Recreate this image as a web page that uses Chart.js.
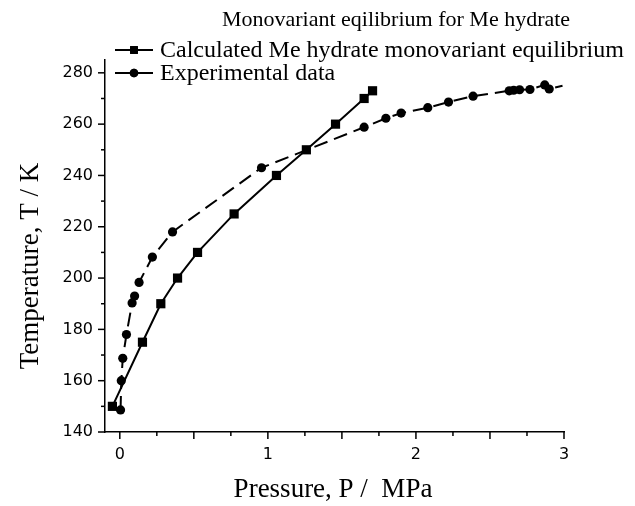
<!DOCTYPE html>
<html>
<head>
<meta charset="utf-8">
<script src="https://cdn.jsdelivr.net/npm/chart.js@4/dist/chart.umd.min.js"></script>
<style>
  html, body { margin: 0; padding: 0; background: #fff; }
</style>
</head>
<body>
<canvas id="chart-hidrato" width="635" height="506"></canvas>
<script>
// ==================== DATOS ====================
const calcPresion = [-0.05, 0.153, 0.277, 0.39, 0.525, 0.772, 1.058, 1.26, 1.457, 1.65, 1.707];
const calcTemp    = [150, 175, 190, 200, 210, 225, 240, 250, 260, 270, 273];

const expPresion = [0.005, 0.01, 0.02, 0.045, 0.083, 0.1, 0.13, 0.22, 0.356, 0.957, 1.65, 1.797, 1.9, 2.08, 2.22, 2.386, 2.63, 2.66, 2.7, 2.77, 2.87, 2.9, 2.99];
const expTemp    = [148.6, 160, 168.7, 178, 190.3, 193, 198.3, 208.2, 218, 243, 258.8, 262.3, 264.3, 266.4, 268.6, 270.9, 273, 273.2, 273.4, 273.5, 275.3, 273.7, 275];

const ticksX = [0, 0.25, 0.5, 0.75, 1, 1.25, 1.5, 1.75, 2, 2.25, 2.5, 2.75, 3];
const ticksY = [140, 150, 160, 170, 180, 190, 200, 210, 220, 230, 240, 250, 260, 270, 280];

const etiquetas = ['Calculated Me hydrate monovariant equilibrium', 'Experimental data'];
const tituloGrafico = 'Monovariant eqilibrium for Me hydrate';
const tituloX = 'Pressure, P /  MPa';
const tituloY = 'Temperature, T / K';

const toXY = (xs, ys) => xs.map((x, i) => ({ x, y: ys[i] }));

// ==================== PLUGIN: marcas, títulos y leyenda ====================
const decoraciones = {
    id: 'decoraciones',
    afterDraw(chart) {
        const { ctx, chartArea, scales } = chart;
        ctx.save();
        ctx.strokeStyle = '#000';
        ctx.fillStyle = '#000';
        ctx.lineWidth = 1.5;

        // marcas de los ejes (mayores / menores)
        scales.x.ticks.forEach(t => {
            const px = scales.x.getPixelForValue(t.value);
            const len = Number.isInteger(t.value * 2) ? 7 : 4;
            ctx.beginPath(); ctx.moveTo(px, chartArea.bottom); ctx.lineTo(px, chartArea.bottom + len); ctx.stroke();
        });
        scales.y.ticks.forEach(t => {
            const py = scales.y.getPixelForValue(t.value);
            const len = t.value % 20 === 0 ? 7 : 4;
            ctx.beginPath(); ctx.moveTo(chartArea.left, py); ctx.lineTo(chartArea.left - len, py); ctx.stroke();
        });

        // títulos
        ctx.textBaseline = 'middle';
        ctx.textAlign = 'center';
        ctx.font = '22px "Liberation Serif"';
        ctx.fillText(tituloGrafico, 396, 20);
        ctx.font = '27px "Liberation Serif"';
        ctx.fillText(tituloX, 333, 490);
        ctx.save();
        ctx.translate(31, 266);
        ctx.rotate(-Math.PI / 2);
        ctx.fillText(tituloY, 0, 0);
        ctx.restore();

        // leyenda
        ctx.textAlign = 'left';
        ctx.font = '24px "Liberation Serif"';
        chart.data.datasets.forEach((ds, i) => {
            const y = 50 + i * 23;
            ctx.lineWidth = 2;
            ctx.setLineDash([]);
            ctx.beginPath(); ctx.moveTo(115, y); ctx.lineTo(153, y); ctx.stroke();
            Chart.helpers.drawPoint(ctx, { pointStyle: ds.pointStyle, radius: ds.legendRadius, borderWidth: 0 }, 134, y);
            ctx.fill();
            ctx.fillText(ds.label, 160, y + 1);
        });
        ctx.restore();
    }
};

// ==================== GRÁFICO ====================
const ctx = document.getElementById('chart-hidrato').getContext('2d');
new Chart(ctx, {
    type: 'line',
    data: {
        datasets: [{
            label: etiquetas[0],
            data: toXY(calcPresion, calcTemp),
            borderColor: '#000',
            backgroundColor: '#000',
            borderWidth: 2,
            pointStyle: 'rect',
            pointRadius: 6.5,
            legendRadius: 5.5,
            pointBorderWidth: 0,
            tension: 0
        }, {
            label: etiquetas[1],
            data: toXY(expPresion, expTemp),
            borderColor: '#000',
            backgroundColor: '#000',
            borderWidth: 2,
            borderDash: [14, 7],
            pointStyle: 'circle',
            pointRadius: c => c.dataIndex === expPresion.length - 1 ? 0 : 4.6,
            legendRadius: 4.3,
            pointBorderWidth: 0,
            tension: 0
        }]
    },
    options: {
        responsive: false,
        animation: false,
        devicePixelRatio: 1,
        layout: { padding: { top: 60, right: 71, bottom: 0, left: 0 } },
        plugins: {
            legend: { display: false },
            title: { display: false },
            tooltip: { enabled: false }
        },
        scales: {
            x: {
                type: 'linear',
                min: -0.1,
                max: 3,
                afterFit: s => { s.height = 74; },
                afterBuildTicks: s => { s.ticks = ticksX.map(v => ({ value: v })); },
                grid: { display: false },
                border: { display: true, color: '#000', width: 1.5 },
                ticks: {
                    color: '#000',
                    padding: 5,
                    maxRotation: 0,
                    autoSkip: false,
                    font: { family: '"DejaVu Sans"', size: 16 },
                    callback: v => Number.isInteger(v) ? String(v) : ''
                }
            },
            y: {
                type: 'linear',
                min: 140,
                max: 285,
                afterFit: s => { s.width = 105; },
                afterBuildTicks: s => { s.ticks = ticksY.map(v => ({ value: v })); },
                grid: { display: false },
                border: { display: true, color: '#000', width: 1.5 },
                ticks: {
                    color: '#000',
                    padding: 4,
                    autoSkip: false,
                    font: { family: '"DejaVu Sans"', size: 16 },
                    callback: v => v % 20 === 0 ? String(v) : ''
                }
            }
        }
    },
    plugins: [decoraciones]
});
</script>
</body>
</html>
